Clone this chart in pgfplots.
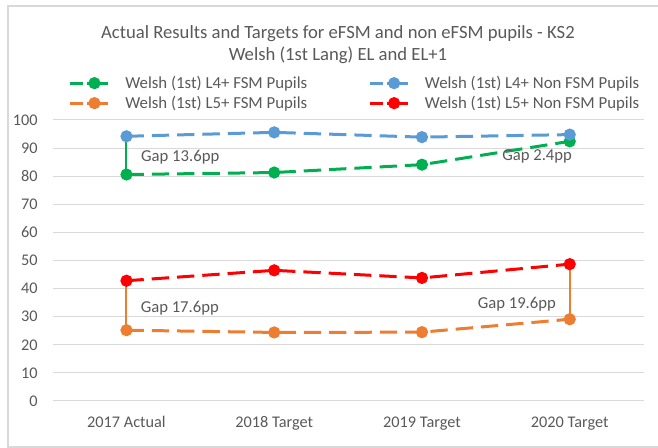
\documentclass[border=0pt]{standalone}
\usepackage{fontspec}
\setmainfont{Carlito}
\usepackage{pgfplots}
\pgfplotsset{compat=1.18}
\definecolor{cgreen}{HTML}{00B050}
\definecolor{cblue}{HTML}{5B9BD5}
\definecolor{corange}{HTML}{ED7D31}
\definecolor{cred}{HTML}{FF0000}
\definecolor{ctext}{HTML}{595959}
\definecolor{cgrid}{HTML}{D9D9D9}
\begin{document}
\begin{tikzpicture}
\useasboundingbox (0,0) rectangle (493.5pt,-336pt);
\draw[color=cgrid, line width=0.9pt] (500pt,-4.5pt) -- (6pt,-4.5pt) -- (6pt,-335.25pt) -- (500pt,-335.25pt);
\node[anchor=base, font=\fontsize{14}{16}\selectfont, text=ctext, inner sep=0pt] at (253.5pt,-29.25pt) {Actual Results and Targets for eFSM and non eFSM pupils - KS2};
\node[anchor=base, font=\fontsize{14}{16}\selectfont, text=ctext, inner sep=0pt] at (253.5pt,-45.75pt) {Welsh (1st Lang) EL and EL+1};
\begin{axis}[
  at={(39.45pt,-300.75pt)}, anchor=south west,
  scale only axis, width=443.25pt, height=210.75pt,
  xmin=-0.5, xmax=3.5, ymin=0, ymax=100,
  xtick={0,1,2,3},
  xticklabels={2017 Actual, 2018 Target, 2019 Target, 2020 Target},
  ytick={0,10,...,100},
  /pgf/number format/assume math mode=true,
  ymajorgrids, grid style={color=cgrid, line width=0.75pt},
  axis line style={draw=none}, tick style={draw=none},
  ticklabel style={font=\fontsize{12.2}{14}\selectfont, text=ctext, inner sep=0pt},
  yticklabel style={anchor=east, xshift=-11pt},
  xticklabel style={anchor=base, yshift=-20.25pt},
  legend columns=2,
  legend cell align=left,
  legend style={at={(0.0277,1.1667)}, anchor=north west, draw=none, fill=none,
    inner sep=0pt, outer sep=0pt, row sep=0pt,
    font=\fontsize{12.6}{14}\selectfont, text=ctext,
    nodes={inner sep=0pt, text height=11.4pt, text depth=3.6pt},
    /tikz/every odd column/.append style={column sep=11.5pt},
    /tikz/every even column/.append style={column sep=46pt}},
  legend image code/.code={
    \draw[#1, mark=none, line cap=butt, dash pattern=on 9.75pt off 3pt on 20pt off 1pt] (0pt,0pt) -- (28.5pt,0pt);
    \draw[#1, solid] plot coordinates {(18pt,0pt)};
  },
  every axis plot/.append style={line width=2.25pt, line cap=butt, dash pattern=on 13pt off 6pt, mark=*, mark size=3.4pt, mark options={solid}},
  clip=false,
]
\addplot[forget plot, cgreen, solid, line width=1.5pt, mark=none] coordinates {(0,80.6) (0,94.2)};
\addplot[forget plot, corange, solid, line width=1.5pt, mark=none] coordinates {(0,25.2) (0,42.8)};
\addplot[forget plot, corange, solid, line width=1.5pt, mark=none] coordinates {(3,29.1) (3,48.7)};
\addplot[cgreen, mark options={fill=cgreen, draw=cgreen, solid}] coordinates {(0,80.6) (1,81.3) (2,84.1) (3,92.4)};
\addlegendentry{Welsh (1st) L4+ FSM Pupils}
\addplot[cblue, mark options={fill=cblue, draw=cblue, solid}] coordinates {(0,94.2) (1,95.6) (2,93.9) (3,94.8)};
\addlegendentry{Welsh (1st) L4+ Non FSM Pupils}
\addplot[corange, mark options={fill=corange, draw=corange, solid}] coordinates {(0,25.2) (1,24.4) (2,24.5) (3,29.1)};
\addlegendentry{Welsh (1st) L5+ FSM Pupils}
\addplot[cred, mark options={fill=cred, draw=cred, solid}] coordinates {(0,42.8) (1,46.5) (2,43.8) (3,48.7)};
\addlegendentry{Welsh (1st) L5+ Non FSM Pupils}
\node[anchor=base west, inner sep=0pt, font=\fontsize{12.5}{14}\selectfont, text=ctext] at (axis cs:0.098,85.1) {Gap 13.6pp};
\node[anchor=base west, inner sep=0pt, font=\fontsize{12.5}{14}\selectfont, text=ctext] at (axis cs:2.542,85.5) {Gap 2.4pp};
\node[anchor=base west, inner sep=0pt, font=\fontsize{12.5}{14}\selectfont, text=ctext] at (axis cs:0.095,31.5) {Gap 17.6pp};
\node[anchor=base west, inner sep=0pt, font=\fontsize{12.5}{14}\selectfont, text=ctext] at (axis cs:2.376,32.9) {Gap 19.6pp};
\end{axis}
\end{tikzpicture}
\end{document}
